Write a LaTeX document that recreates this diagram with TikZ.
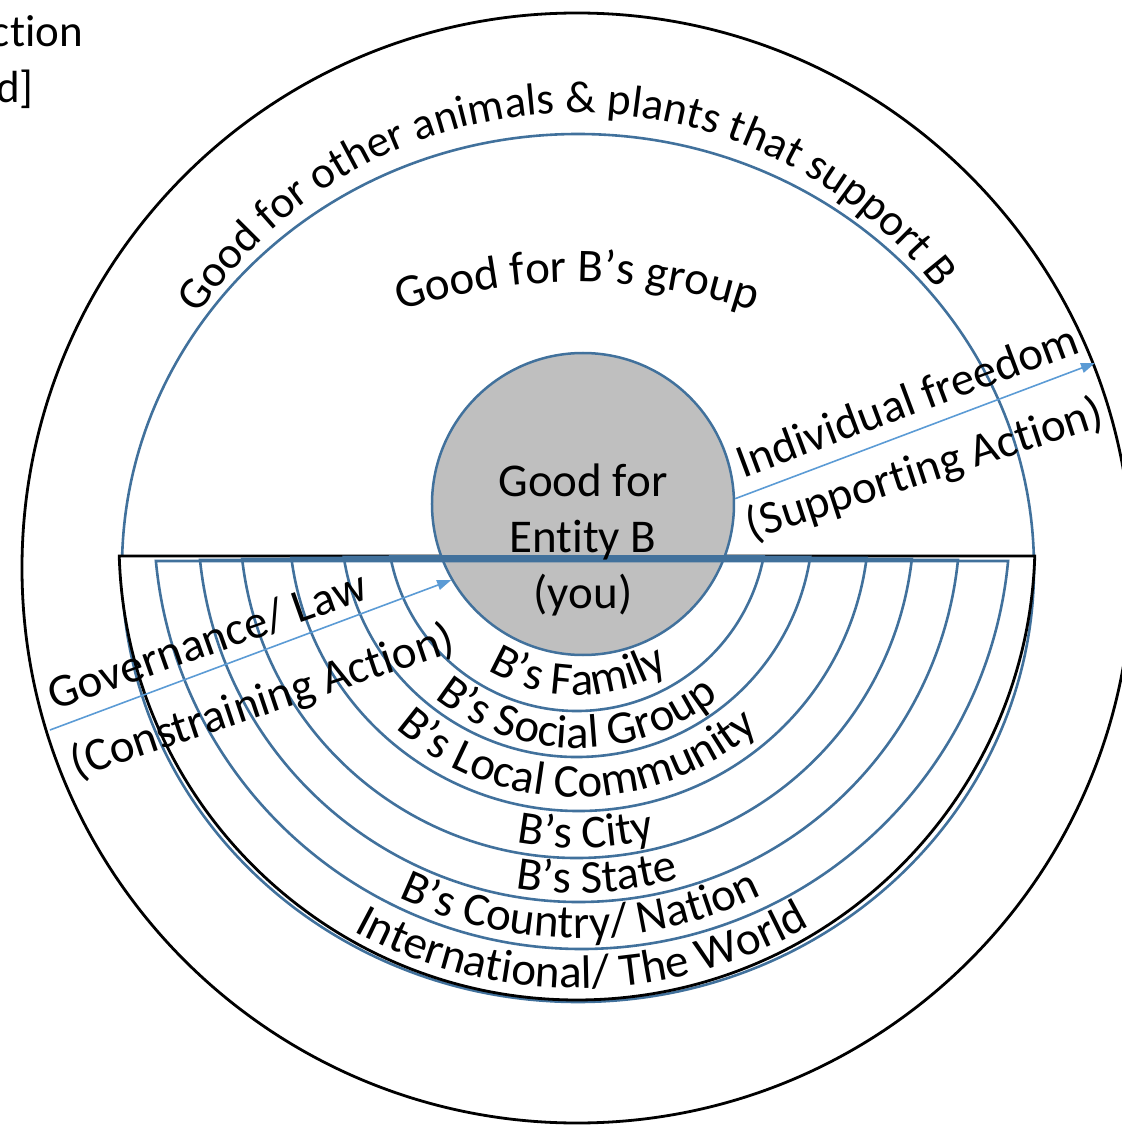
\documentclass[tikz,border=0pt]{standalone}
\usepackage{fontspec}
\setmainfont{Carlito}[Ligatures={NoCommon}]
\usetikzlibrary{arrows.meta,decorations.text}
\definecolor{ringblue}{RGB}{65,113,156}
\definecolor{arrowblue}{RGB}{91,155,213}
\definecolor{entitygray}{RGB}{191,191,191}
\newcommand{\ringfont}{\fontsize{47}{56}\selectfont}
\newcommand{\outerfont}{\fontsize{45}{56}\selectfont}

\begin{document}
\begin{tikzpicture}[x=1pt, y=1pt,
  blackline/.style={draw=black, line width=2.8pt},
  ringline/.style={draw=ringblue, line width=2.6pt},
  freearrow/.style={draw=arrowblue, line width=1.6pt, -{Triangle[length=14pt, width=10pt]}},
  ringtext/.style={font=\ringfont}]

  \useasboundingbox (-577,-557) rectangle (545,568);

	%outer rings
  \draw[blackline] (0,0) circle[radius=555pt];
  \draw[ringline] (1,0) ellipse[x radius=456pt, y radius=434pt];

	%lower half
  \def\hy{26};
  \pgfmathsetmacro\ha{asin((\hy-12)/458)}
  \draw[blackline, fill=white, shift={(0,\hy)}] (180+\ha:458pt) arc[start angle=180+\ha, end angle=360-\ha, radius=458pt] -- cycle;

	%entity
  \node[circle, draw=ringblue, line width=2.5pt, fill=entitygray, minimum size=302pt, inner sep=0pt] (entity) at (6,64) {};

	%rings
  \def\cy{47};
    \foreach \rad/\top/\dx in {190/11.5/0, 236/11/0, 290/10/2, 337/9/0, 381/8/2, 428/7/5}{
       \pgfmathsetmacro\ofs{asin((\cy-\top)/\rad)}
       \draw[ringline, shift={(\dx,\cy)}] (180+\ofs:\rad pt) arc[start angle=180+\ofs, end angle=360-\ofs, radius=\rad pt] -- cycle;
    }

	%ring names
    \foreach \rad/\ang/\txt in {174/270.5/B’s Family, 227/270/B’s Social Group, 276/270/B’s Local Community, 327/271.6/B’s City, 372/273.2/B’s State, 417/270.5/{B’s Country/ Nation}, 467/270.7/{International/ The World}}{
       \path[decorate, decoration={text along path, text/.expanded={|\noexpand\ringfont|\txt}, text align=center}, shift={(0,\cy)}] (\ang-70:\rad pt) arc[start angle=\ang-70, end angle=\ang+70, radius=\rad pt];
    }

	%upper names
  \path[decorate, decoration={text along path, text={|\outerfont|Good for other animals {\&} plants that support B}, text align=center}] (172:455pt) arc[start angle=172, end angle=12, radius=455pt];
  \path[decorate, decoration={text along path, text={|\ringfont|Good for B’s group}, text align=center}, shift={(0,-264)}] (130:550pt) arc[start angle=130, end angle=50, radius=550pt];

  \node[ringtext, align=center] (entitylabel) at (6,28) {Good for\\Entity B\\(you)};

	%actions
  \coordinate (govtail) at (-527,-162);
  \coordinate (freehead) at (518,205);
  \draw[freearrow] (govtail) -- (entity.210);
  \draw[freearrow] (entity.2) -- (freehead);

  \node[ringtext, rotate=19.5] (govlabel) at (-370,-72) {Governance/ Law};
  \node[ringtext, rotate=18.5] (constrlabel) at (-314,-134) {(Constraining Action)};
  \node[ringtext, rotate=20.5] (freelabel) at (330,168) {Individual freedom};
  \node[ringtext, rotate=18] (supplabel) at (348,98) {(Supporting Action)};

	%cut off text
  \node[font=\outerfont, anchor=base east, inner sep=0pt] (cutone) at (-494,521) {ction};
  \node[font=\outerfont, anchor=base east, inner sep=0pt] (cuttwo) at (-543,465) {d]};

\end{tikzpicture}
\end{document}
